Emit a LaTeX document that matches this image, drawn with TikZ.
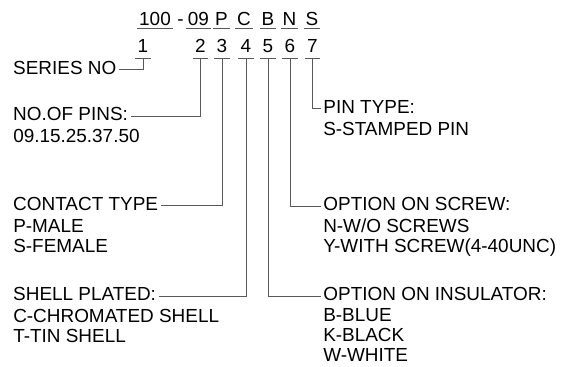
\documentclass[tikz,border=0pt]{standalone}
\usepackage{fontspec}
\setmainfont{Liberation Sans}
\usepackage{tikz}
\usetikzlibrary{positioning}

\tikzset{
  code/.style={inner xsep=1.2pt, inner ysep=1.5pt, text depth=0pt, anchor=base},
  digit/.style={inner xsep=1.7pt, inner ysep=3.75pt, text depth=0pt, anchor=base},
  head/.style={inner xsep=2pt, inner ysep=0pt, text height=1.38ex, text depth=0pt},
  opts/.style={align=left, inner sep=0pt, anchor=base west},
  uline/.style={draw=black!65, line width=0.6pt},
  conn/.style={draw=black!65, line width=0.6pt},
}

\begin{document}
\begin{tikzpicture}[x=0.75pt, y=-0.75pt, font=\fontsize{14.2}{15}\selectfont]
    \useasboundingbox (0,0) rectangle (561,367);

    % part number
    \node[code] (p100) at (155,26) {100};
    \node[code] (pdash) at (180.5,26) {-};
    \node[code] (p09) at (198.5,26) {09};
    \node[code] (pP) at (221.5,26) {P};
    \node[code] (pC) at (244,26) {C};
    \node[code] (pB) at (268,26) {B};
    \node[code] (pN) at (289.5,26) {N};
    \node[code] (pS) at (312,26) {S};

    % position numbers
    \foreach \i/\x in {1/143, 2/200.5, 3/222, 4/246, 5/268, 6/290, 7/312.5}
        \node[digit] (d\i) at (\x,53) {\i};

    % underlines
    \foreach \n in {p100, p09, pP, pC, pB, pN, pS, d1, d2, d3, d4, d5, d6, d7}
        \draw[uline] (\n.south west) -- (\n.south east);

    % left column (multi-line blocks sit on their last baseline)
    \node[head, anchor=west] (series) at (10.3,69.5) {SERIES NO};
    \node[head, anchor=west] (pins) at (10.3,116) {NO.OF PINS:};
    \node[opts] (pinsopt) at (13,142.7) {09.15.25.37.50};
    \node[head, anchor=west] (contact) at (10.3,205.5) {CONTACT TYPE};
    \node[opts] (contactopt) at (13,252.5) {P-MALE\\S-FEMALE};
    \node[head, anchor=west] (shell) at (10.3,296) {SHELL PLATED:};
    \node[opts] (shellopt) at (13,342.7) {C-CHROMATED SHELL\\T-TIN SHELL};

    % right column
    \node[head, anchor=west] (pintype) at (320.5,108.5) {PIN TYPE:};
    \node[opts] (pintypeopt) at (323,135.2) {S-STAMPED PIN};
    \node[head, anchor=west] (screw) at (320.5,206) {OPTION ON SCREW:};
    \node[opts] (screwopt) at (323,252.7) {N-W/O SCREWS\\Y-WITH SCREW(4-40UNC)};
    \node[head, anchor=west] (insul) at (320.5,296) {OPTION ON INSULATOR:};
    \node[opts] (insulopt) at (323,361.5) {B-BLUE\\K-BLACK\\W-WHITE};

    % connectors
    \draw[conn] (d1.south) |- (series.east);
    \draw[conn] (d2.south) |- (pins.east);
    \draw[conn] (d3.south) |- (contact.east);
    \draw[conn] (d4.south) |- (shell.east);
    \draw[conn] (d5.south) |- (insul.west);
    \draw[conn] (d6.south) |- (screw.west);
    \draw[conn] (d7.south) |- (pintype.west);
\end{tikzpicture}
\end{document}
